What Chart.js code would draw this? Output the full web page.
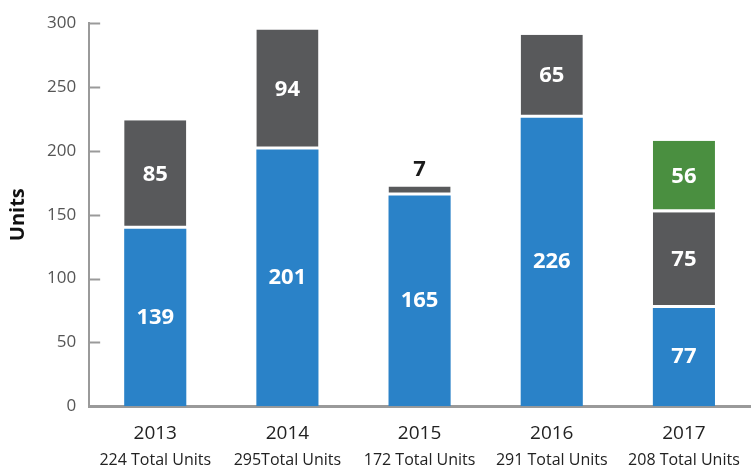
<!DOCTYPE html>
<html>
<head>
<meta charset="utf-8">
<script src="https://cdn.jsdelivr.net/npm/chart.js@4.4.1/dist/chart.umd.min.js"></script>
<style>
  html, body { margin: 0; padding: 0; background: #fff; }
  #wrap { width: 752px; height: 466px; }
</style>
</head>
<body>
<div id="wrap"><canvas id="unitsChart" width="752" height="466"></canvas></div>
<script>
const years = ['2013', '2014', '2015', '2016', '2017'];
const totalLabels = ['224 Total Units', '295Total Units', '172 Total Units', '291 Total Units', '208 Total Units'];
const blueUnits = [139, 201, 165, 226, 77];
const greyUnits = [85, 94, 7, 65, 75];
const greenUnits = [null, null, null, null, 56];
const yTicks = [0, 50, 100, 150, 200, 250, 300];

const FONT = "'Open Sans', 'Noto Sans', sans-serif";

// value labels in the middle of each segment (small ones go above)
const valueLabels = {
    id: 'valueLabels',
    afterDatasetsDraw(chart) {
        const ctx = chart.ctx;
        ctx.save();
        ctx.font = 'bold 22px ' + FONT;
        ctx.textAlign = 'center';
        ctx.textBaseline = 'middle';
        chart.data.datasets.forEach((ds, i) => {
            const meta = chart.getDatasetMeta(i);
            meta.data.forEach((bar, j) => {
                const v = ds.data[j];
                if (v == null) return;
                const h = bar.base - bar.y;
                if (h < 24) {
                    ctx.fillStyle = '#1a1a1a';
                    ctx.fillText(v, bar.x, bar.y - 17);
                } else {
                    ctx.fillStyle = '#ffffff';
                    ctx.fillText(v, bar.x, (bar.y + bar.base) / 2);
                }
            });
        });
        ctx.restore();
    }
};

// inward y ticks + the "Total Units" line under the years
const axisExtras = {
    id: 'axisExtras',
    afterDraw(chart) {
        const ctx = chart.ctx;
        const y = chart.scales.y;
        const x = chart.scales.x;
        ctx.save();
        ctx.strokeStyle = '#9a9a9a';
        ctx.lineWidth = 2;
        yTicks.forEach(t => {
            if (t === 0) return;
            const py = Math.round(y.getPixelForValue(t)) + 0.5;
            ctx.beginPath();
            ctx.moveTo(y.right, py);
            ctx.lineTo(y.right + 11, py);
            ctx.stroke();
        });
        ctx.fillStyle = '#222';
        ctx.font = '16px ' + FONT;
        ctx.textAlign = 'center';
        ctx.textBaseline = 'middle';
        totalLabels.forEach((t, i) => {
            ctx.fillText(t, x.getPixelForTick(i), x.top + 54);
        });
        ctx.restore();
    }
};

const chartData = {
    labels: years,
    datasets: [
        {
            label: 'Blue',
            data: blueUnits,
            backgroundColor: '#2a82c8',
            borderWidth: 0
        },
        {
            label: 'Grey',
            data: greyUnits,
            backgroundColor: '#58595b',
            borderColor: '#ffffff',
            borderWidth: { top: 0, left: 0, right: 0, bottom: 3 },
            borderSkipped: false
        },
        {
            label: 'Green',
            data: greenUnits,
            backgroundColor: '#4a8f40',
            borderColor: '#ffffff',
            borderWidth: { top: 0, left: 0, right: 0, bottom: 3 },
            borderSkipped: false
        }
    ]
};

const config = {
    type: 'bar',
    data: chartData,
    options: {
        responsive: false,
        animation: false,
        barPercentage: 0.47,
        categoryPercentage: 1,
        layout: { padding: { top: 7, right: 2, left: 6, bottom: 5 } },
        plugins: {
            legend: { display: false },
            tooltip: { enabled: false }
        },
        scales: {
            x: {
                stacked: true,
                grid: { display: false, drawTicks: false },
                border: { display: true, color: '#9a9a9a', width: 3 },
                ticks: {
                    color: '#222',
                    font: { family: FONT, size: 19 },
                    padding: 16
                }
            },
            y: {
                stacked: true,
                min: 0,
                max: 300,
                grid: { display: false, drawTicks: false },
                border: { display: true, color: '#9a9a9a', width: 2 },
                afterBuildTicks: axis => { axis.ticks = yTicks.map(v => ({ value: v })); },
                ticks: {
                    color: '#555',
                    font: { family: FONT, size: 17 },
                    padding: 13
                },
                title: {
                    display: true,
                    text: 'Units',
                    color: '#111',
                    font: { family: FONT, size: 20, weight: 'bold' },
                    padding: { top: 0, bottom: 4 }
                }
            }
        }
    },
    plugins: [valueLabels, axisExtras]
};

const myChart = new Chart(document.getElementById('unitsChart'), config);
</script>
</body>
</html>
